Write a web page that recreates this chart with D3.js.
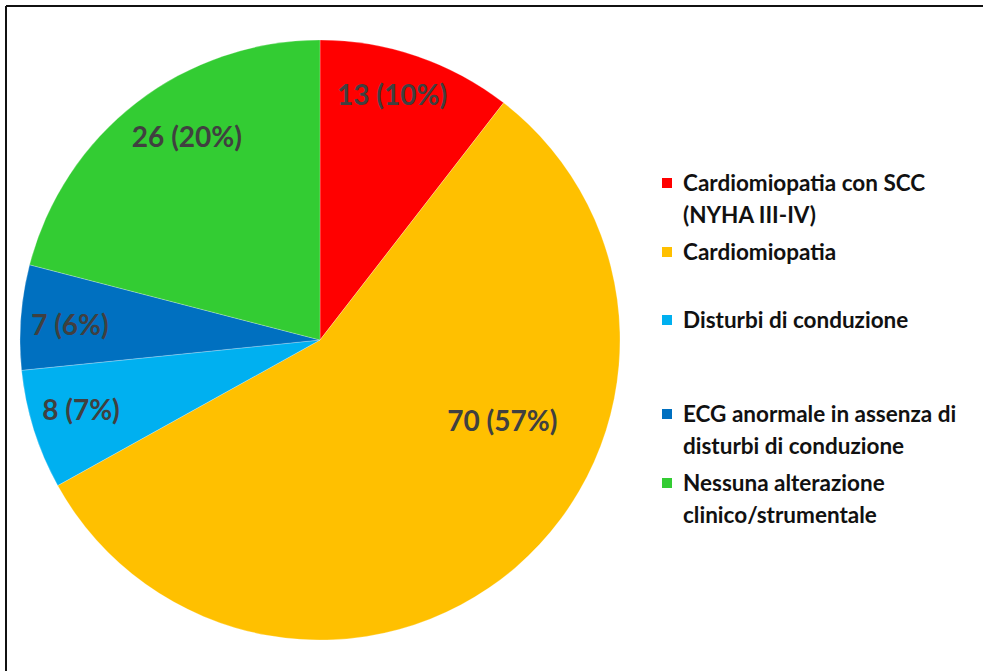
<!DOCTYPE html>
<html>
<head>
<meta charset="utf-8">
<script src="https://cdn.jsdelivr.net/npm/d3@7"></script>
<style>
  body { margin: 0; background: #fff; }
  svg text { font-family: Lato, "Open Sans", sans-serif; font-weight: bold; }
</style>
</head>
<body>
<div id="chart"></div>
<script>
// data
const categories = [
  "Cardiomiopatia con SCC (NYHA III-IV)",
  "Cardiomiopatia",
  "Disturbi di conduzione",
  "ECG anormale in assenza di disturbi di conduzione",
  "Nessuna alterazione clinico/strumentale"
];
const values = [13, 70, 8, 7, 26];
const percents = [10, 57, 7, 6, 20];
const legendLines = [
  ["Cardiomiopatia con SCC", "(NYHA III-IV)"],
  ["Cardiomiopatia"],
  ["Disturbi di conduzione"],
  ["ECG anormale in assenza di", "disturbi di conduzione"],
  ["Nessuna alterazione", "clinico/strumentale"]
];
const colors = ["#ff0000", "#ffc000", "#00b0f0", "#0070c0", "#33cc33"];

// label placement inside each slice (fraction of slice angle, fraction of radius)
const labelAt = [0.435, 0.375, 0.55, 0.45, 0.56];
const labelR = [0.85, 0.665, 0.83, 0.835, 0.81];
// space before each legend entry
const legendGap = [0, 37, 68, 94, 37];

const width = 983, height = 671;
const svg = d3.select("#chart").append("svg")
  .attr("width", width)
  .attr("height", height);

// frame (top and left edges visible)
svg.append("line").attr("x1", 6).attr("y1", 6).attr("x2", width).attr("y2", 6)
  .attr("stroke", "#111").attr("stroke-width", 2);
svg.append("line").attr("x1", 6).attr("y1", 6).attr("x2", 6).attr("y2", height)
  .attr("stroke", "#111").attr("stroke-width", 2);

const cx = 320, cy = 340, radius = 300;
const g = svg.append("g").attr("transform", `translate(${cx},${cy})`);

const pie = d3.pie().sort(null).value((d) => d);
const arcs = pie(values);
const arc = d3.arc().innerRadius(0).outerRadius(radius);

g.selectAll("path.slice")
  .data(arcs)
  .join("path")
  .attr("class", "slice")
  .attr("d", arc)
  .attr("fill", (d, i) => colors[i])
  .attr("stroke", "rgba(255,255,255,0.35)")
  .attr("stroke-width", 0.7);

g.selectAll("text.lbl")
  .data(arcs)
  .join("text")
  .attr("class", "lbl")
  .attr("transform", (d, i) => {
    const a = d.startAngle + (d.endAngle - d.startAngle) * labelAt[i];
    const r = radius * labelR[i];
    return `translate(${r * Math.sin(a)},${-r * Math.cos(a)})`;
  })
  .attr("text-anchor", "middle")
  .attr("dy", "0.35em")
  .attr("fill", "#404040")
  .style("font-size", "28px")
  .text((d, i) => `${values[i]} (${percents[i]}%)`);

// legend
const legend = svg.append("g").attr("transform", "translate(662,183)");
const lineH = 32;
let y = 0;
legendLines.forEach((lines, i) => {
  y += legendGap[i];
  const item = legend.append("g").attr("transform", `translate(0,${y})`);
  item.append("rect")
    .attr("x", 0).attr("y", -5)
    .attr("width", 10).attr("height", 10)
    .attr("fill", colors[i]);
  lines.forEach((t, j) => {
    item.append("text")
      .attr("x", 21).attr("y", j * lineH)
      .attr("dy", "0.35em")
      .attr("fill", "#111")
      .style("font-size", "22.5px")
      .text(t);
  });
  y += (lines.length - 1) * lineH;
});
</script>
</body>
</html>
